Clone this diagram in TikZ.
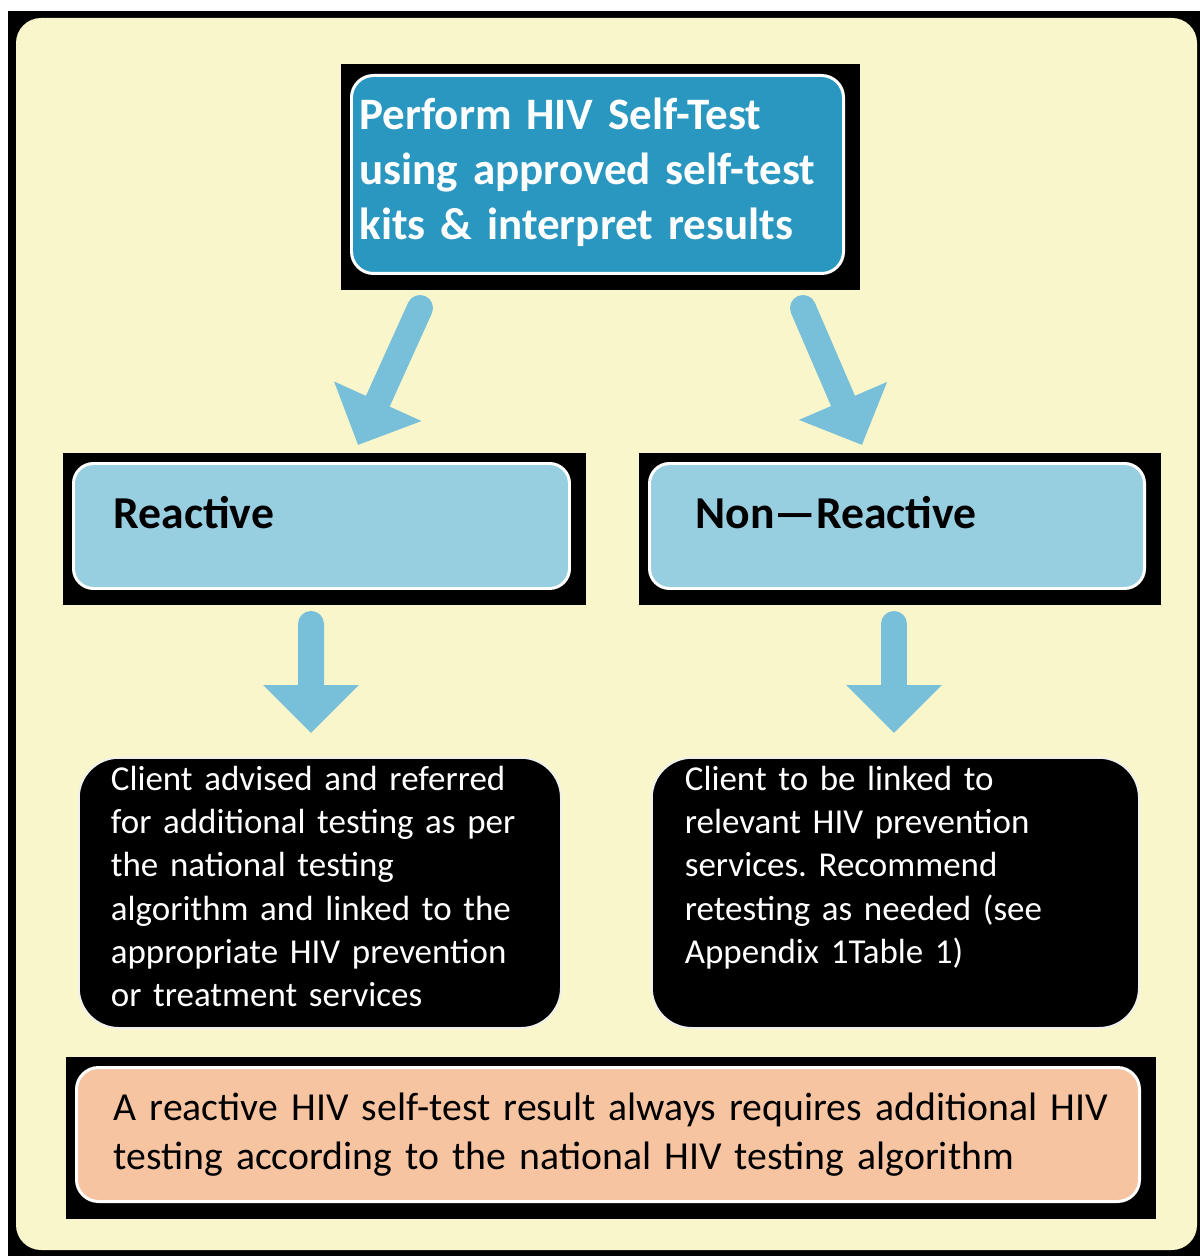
\documentclass[tikz,border=0pt]{standalone}
\usepackage{fontspec}
\setmainfont{Carlito}
\frenchspacing
\usepackage{tikz}
\usetikzlibrary{arrows.meta,positioning,calc,backgrounds}
\definecolor{hivteal}{HTML}{2A97C0}
\definecolor{hivlight}{HTML}{97CFE1}
\definecolor{hivarrow}{HTML}{78BFDA}
\definecolor{hivpeach}{HTML}{F7C4A2}
\definecolor{hivcream}{HTML}{F8F6CA}
\tikzset{
  % boxes
  testbox/.style={rounded corners=0.44cm,fill=hivteal,draw=white,line width=1.7pt,
             text=white,font=\fontsize{25.6}{31.3}\selectfont\bfseries,align=left,
             inner xsep=0.16cm,inner ysep=0pt,text height=1.08cm,text depth=2.88cm,
             anchor=north west},
  resultbox/.style={rounded corners=0.4cm,fill=hivlight,draw=white,line width=1.7pt,
             text=black,font=\fontsize{26}{31}\selectfont\bfseries,align=left,
             inner ysep=0pt,text height=1.3cm,text depth=1.2cm,anchor=north west},
  advicebox/.style={rounded corners=0.8cm,fill=black,draw=black!6,line width=1pt,
             text=white,font=\fontsize{19.9}{24.5}\selectfont,align=left,
             inner ysep=0pt,text height=0.66cm,text depth=4.74cm,anchor=north west},
  notebox/.style={rounded corners=0.44cm,fill=hivpeach,draw=white,line width=1.7pt,
             text=black,font=\fontsize{22.6}{27.9}\selectfont,align=left,
             inner xsep=0.74cm,inner ysep=0pt,text height=1.06cm,text depth=1.62cm,
             anchor=north west},
  % arrows
  bigarrow/.style={draw=hivarrow,line width=0.52cm,line cap=round,
             -{Triangle[width=1.86cm,length=0.96cm]}},
}
\begin{document}
\begin{tikzpicture}
\useasboundingbox (0,0) rectangle (24,-25.12);
  \node[testbox,text width=9.52cm] (test) at (7.0,-1.48)
    {Perform HIV Self-Test\\using approved self-test\\kits \& interpret results};
  \node[resultbox,inner xsep=0.8cm,text width=8.32cm] (react) at (1.44,-9.24) {Reactive};
  \node[resultbox,inner xsep=0.92cm,text width=8.06cm] (nonreact) at (12.96,-9.24) {Non---Reactive};
  \node[advicebox,inner xsep=0.64cm,text width=8.36cm] (adviceL) at (1.56,-15.14)
    {Client advised and referred\\for additional testing as per\\the national testing\\
     algorithm and linked to the\\appropriate HIV prevention\\or treatment services};
  \node[advicebox,inner xsep=0.66cm,text width=8.42cm] (adviceR) at (13.02,-15.14)
    {Client to be linked to\\relevant HIV prevention\\services. Recommend\\
     retesting as needed (see\\Appendix 1Table 1)};
  \node[notebox,text width=19.78cm] (note) at (1.5,-21.32)
    {\mbox{A reactive HIV self-test result always requires additional HIV}\\
     testing according to the national HIV testing algorithm};
  \draw[bigarrow] ($(test.south west)+(1.4,-0.66)$) -- ($(react.north west)+(5.72,0.34)$);
  \draw[bigarrow] ($(test.south east)+(-0.84,-0.66)$) -- ($(nonreact.north west)+(4.28,0.34)$);
  \draw[bigarrow] ($(react.south west)+(4.78,-0.68)$) -- ($(adviceL.north west)+(4.66,0.48)$);
  \draw[bigarrow] ($(nonreact.south west)+(4.92,-0.68)$) -- ($(adviceR.north west)+(4.86,0.48)$);
  \begin{scope}[on background layer]
    \fill[white] (0,0) rectangle (24,-25.12);
    \fill[black] (0.16,-0.22) rectangle (24,-25.12);
    \fill[hivcream,rounded corners=0.5cm] (0.32,-0.36) rectangle (23.94,-25.0);
    \foreach \n in {test,react,nonreact,note}
      \fill[black] ($(\n.north west)+(-0.18,0.19)$) rectangle ($(\n.south east)+(0.3,-0.31)$);
  \end{scope}
\end{tikzpicture}
\end{document}
